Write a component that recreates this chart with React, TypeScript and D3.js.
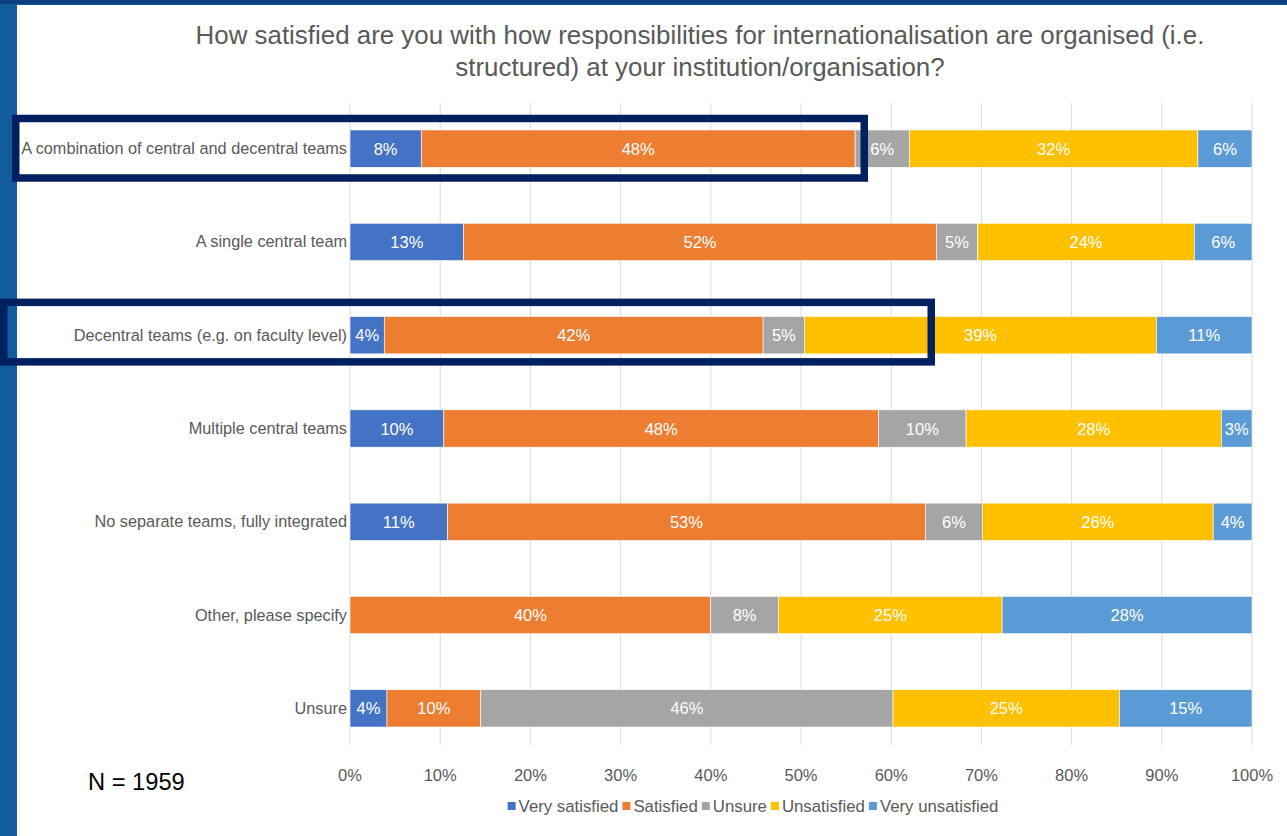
import React, { useEffect, useRef } from "react";
import * as d3 from "d3";

const categories = [
  "A combination of central and decentral teams",
  "A single central team",
  "Decentral teams (e.g. on faculty level)",
  "Multiple central teams",
  "No separate teams, fully integrated",
  "Other, please specify",
  "Unsure",
];
const seriesNames = ["Very satisfied", "Satisfied", "Unsure", "Unsatisfied", "Very unsatisfied"];
const seriesColors = ["#4472C4", "#ED7D31", "#A5A5A5", "#FFC000", "#5B9BD5"];
const verySatisfied = [7.9, 12.6, 3.8, 10.4, 10.8, 0, 4.1];
const satisfied = [48.1, 52.4, 42.0, 48.2, 53.0, 40.0, 10.4];
const unsure = [6.0, 4.6, 4.6, 9.7, 6.3, 7.5, 45.7];
const unsatisfied = [32.0, 24.0, 39.0, 28.3, 25.6, 24.8, 25.1];
const veryUnsatisfied = [6.0, 6.4, 10.6, 3.4, 4.3, 27.7, 14.7];
const xTicks = [0, 10, 20, 30, 40, 50, 60, 70, 80, 90, 100];
const titleLines = [
  "How satisfied are you with how responsibilities for internationalisation are organised (i.e.",
  "structured) at your institution/organisation?",
];
const highlighted = [0, 2];

const W = 1287;
const H = 836;
const FONT = "'Liberation Sans', Arial, Helvetica, sans-serif";

export default function App() {
  const ref = useRef<SVGSVGElement>(null);

  useEffect(() => {
    const svg = d3.select(ref.current);
    svg.selectAll("*").remove();

    // page frame
    svg.append("rect").attr("width", W).attr("height", H).attr("fill", "#125c9e");
    svg.append("rect").attr("width", W).attr("height", 4).attr("fill", "#0c3f7f");
    svg.append("rect").attr("x", 17).attr("y", 5).attr("width", W - 17).attr("height", H - 5).attr("fill", "#ffffff");

    const x = d3.scaleLinear().domain([0, 100]).range([350, 1252]);
    const y = d3.scaleBand<string>().domain(categories).range([102, 755]).paddingInner(0.6).paddingOuter(0.3);

    const rows = categories.map((c, i) => ({
      cat: c,
      "Very satisfied": verySatisfied[i],
      Satisfied: satisfied[i],
      Unsure: unsure[i],
      Unsatisfied: unsatisfied[i],
      "Very unsatisfied": veryUnsatisfied[i],
    }));
    const stacked = d3.stack<any>().keys(seriesNames)(rows);

    // title
    svg
      .append("g")
      .selectAll("text")
      .data(titleLines)
      .join("text")
      .attr("x", 700)
      .attr("y", (_d, i) => 44 + i * 32)
      .attr("text-anchor", "middle")
      .attr("font-family", FONT)
      .attr("font-size", 25.9)
      .attr("fill", "#595959")
      .text((d) => d);

    // gridlines
    svg
      .append("g")
      .selectAll("line")
      .data(xTicks)
      .join("line")
      .attr("x1", (d) => x(d))
      .attr("x2", (d) => x(d))
      .attr("y1", 103)
      .attr("y2", 745)
      .attr("stroke", "#d9d9d9")
      .attr("stroke-width", 1);

    // tick labels
    svg
      .append("g")
      .selectAll("text")
      .data(xTicks)
      .join("text")
      .attr("x", (d) => x(d))
      .attr("y", 781)
      .attr("text-anchor", "middle")
      .attr("font-family", FONT)
      .attr("font-size", 16.5)
      .attr("fill", "#595959")
      .text((d) => d + "%");

    // category labels
    svg
      .append("g")
      .selectAll("text")
      .data(categories)
      .join("text")
      .attr("x", 347)
      .attr("y", (d) => (y(d) as number) + y.bandwidth() / 2 + 5.5)
      .attr("text-anchor", "end")
      .attr("font-family", FONT)
      .attr("font-size", 16.3)
      .attr("fill", "#595959")
      .text((d) => d);

    // bars
    const g = svg.append("g");
    stacked.forEach((s, si) => {
      const sg = g.append("g");
      sg.selectAll("rect")
        .data(s.filter((d) => d[1] - d[0] > 0))
        .join("rect")
        .attr("x", (d) => x(d[0]))
        .attr("y", (d) => y(d.data.cat) as number)
        .attr("width", (d) => x(d[1]) - x(d[0]))
        .attr("height", y.bandwidth())
        .attr("fill", seriesColors[si])
        .attr("stroke", "#ffffff")
        .attr("stroke-width", 0.6);
      sg.selectAll("text")
        .data(s.filter((d) => d[1] - d[0] > 0))
        .join("text")
        .attr("x", (d) => (x(d[0]) + x(d[1])) / 2)
        .attr("y", (d) => (y(d.data.cat) as number) + y.bandwidth() / 2 + 6)
        .attr("text-anchor", "middle")
        .attr("font-family", FONT)
        .attr("font-size", 16.5)
        .attr("fill", "#ffffff")
        .text((d) => Math.round(d[1] - d[0]) + "%");
    });

    // highlight boxes
    const boxes = [
      { x0: 12, x1: 868, i: highlighted[0], dy: -11.5 },
      { x0: 0, x1: 935, i: highlighted[1], dy: -14.2 },
    ];
    svg
      .append("g")
      .selectAll("rect")
      .data(boxes)
      .join("rect")
      .attr("x", (d) => d.x0 + 3.75)
      .attr("y", (d) => (y(categories[d.i]) as number) + d.dy)
      .attr("width", (d) => d.x1 - d.x0 - 7.5)
      .attr("height", 59.5)
      .attr("fill", "none")
      .attr("stroke", "#002060")
      .attr("stroke-width", 7.5);

    // legend
    const lg = svg.append("g");
    const items = seriesNames.map((n, i) => {
      const t = lg
        .append("text")
        .attr("font-family", FONT)
        .attr("font-size", 16.8)
        .attr("fill", "#595959")
        .attr("y", 812)
        .text(n);
      return { n, i, t, w: (t.node() as SVGTextElement).getComputedTextLength() };
    });
    const sq = 8;
    const gap = 3;
    const itemGap = 4;
    const total = d3.sum(items, (d) => sq + gap + d.w) + itemGap * (items.length - 1);
    let cx = 753 - total / 2;
    items.forEach((it) => {
      lg.append("rect")
        .attr("x", cx)
        .attr("y", 802)
        .attr("width", sq)
        .attr("height", sq)
        .attr("fill", seriesColors[it.i]);
      it.t.attr("x", cx + sq + gap);
      cx += sq + gap + it.w + itemGap;
    });

    // N
    svg
      .append("text")
      .attr("x", 88)
      .attr("y", 790)
      .attr("font-family", FONT)
      .attr("font-size", 23.7)
      .attr("fill", "#000000")
      .text("N = 1959");
  }, []);

  return (
    <svg
      ref={ref}
      width={W}
      height={H}
      style={{ position: "absolute", left: 0, top: 0, display: "block" }}
    />
  );
}
